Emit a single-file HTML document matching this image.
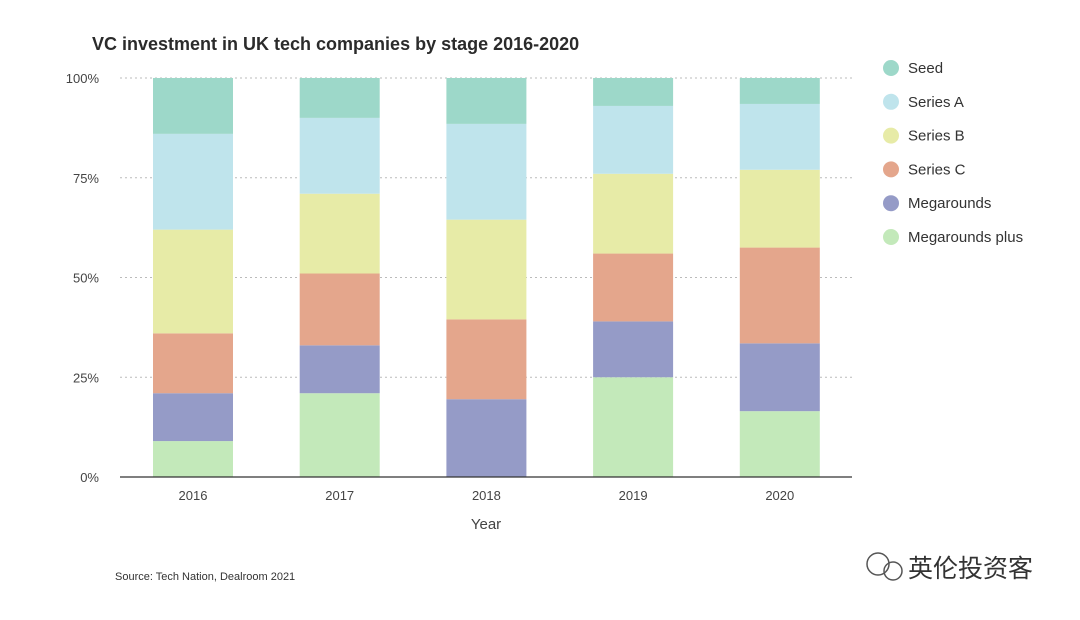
<!DOCTYPE html>
<html><head><meta charset="utf-8"><style>
body{margin:0;background:#fff;width:1080px;height:615px;overflow:hidden;font-family:"Liberation Sans","Noto Sans CJK SC",sans-serif}
</style></head><body>
<svg id="chart" width="1080" height="615" xmlns="http://www.w3.org/2000/svg" font-family="Liberation Sans, Noto Sans CJK SC, sans-serif">
<rect width="1080" height="615" fill="#fff"/>
<text x="92" y="50" font-size="18" font-weight="bold" fill="#2b2b2b">VC investment in UK tech companies by stage 2016-2020</text>
<g id="grid"></g><g id="bars"></g><g id="axes"></g><g id="legend"></g>
<text x="486" y="529" font-size="15" fill="#444" text-anchor="middle">Year</text>
<text x="115" y="580" font-size="11" fill="#333">Source: Tech Nation, Dealroom 2021</text>
<g>
<circle cx="878" cy="564" r="11" fill="none" stroke="#555" stroke-width="1.5"/>
<circle cx="893" cy="571" r="9" fill="none" stroke="#555" stroke-width="1.5"/>
<text x="908" y="577" font-size="25" fill="#333">英伦投资客</text>
</g>
</svg>
<script>
const years=["2016","2017","2018","2019","2020"];
const seriesNames=["Megarounds plus","Megarounds","Series C","Series B","Series A","Seed"];
const megaPlus=[9,21,0,25,16.5];
const mega=[12,12,19.5,14,17];
const seriesC=[15,18,20,17,24];
const seriesB=[26,20,25,20,19.5];
const seriesA=[24,19,24,17,16.5];
const seed=[14,10,11.5,7,6.5];
const yTicks=[0,25,50,75,100];
const colors=["#c3e9ba","#959bc7","#e4a68c","#e7eba7","#bfe4ec","#9dd8c9"];
const series=[megaPlus,mega,seriesC,seriesB,seriesA,seed];
const NS="http://www.w3.org/2000/svg";
const y0=477,y1=78,x0=120,x1=852;
const yS=v=>y0-(v/100)*(y0-y1);
const xS=i=>193+i*146.7;
function mk(t,a,p){const e=document.createElementNS(NS,t);for(const k in a)e.setAttribute(k,a[k]);p.appendChild(e);return e;}
const grid=document.getElementById('grid'),bars=document.getElementById('bars'),axes=document.getElementById('axes'),leg=document.getElementById('legend');
yTicks.forEach(t=>{
 if(t>0){const l=mk('line',{x1:x0,x2:x1,y1:yS(t),y2:yS(t),stroke:'#bbb','stroke-dasharray':'2,3'},grid);
 
 }
 const tx=mk('text',{x:99,y:yS(t)+5,'font-size':13,fill:'#444','text-anchor':'end'},axes);
 tx.textContent=t+'%';
 
 
});
years.forEach((yr,i)=>{
 let cum=0;
 series.forEach((s,j)=>{
  const v=s[i];if(v<=0){return;}
  const r=mk('rect',{x:xS(i)-40,width:80,y:yS(cum+v),height:yS(cum)-yS(cum+v),fill:colors[j]},bars);
  
  
  cum+=v;
 });
 const tx=mk('text',{x:xS(i),y:500,'font-size':13,fill:'#444','text-anchor':'middle'},axes);
 tx.textContent=yr;
 
 
});
const ax=mk('line',{x1:x0,x2:x1,y1:y0,y2:y0,stroke:'#333','stroke-width':1.2},axes);


for(let k=5;k>=0;k--){
 const idx=5-k,cy=68+idx*33.8;
 const g=mk('g',{},leg);
 
 
 mk('circle',{cx:891,cy:cy,r:8,fill:colors[k]},g);
 const t=mk('text',{x:908,y:cy+5,'font-size':15,fill:'#333'},g);
 t.textContent=seriesNames[k];
}
</script>
</body></html>
